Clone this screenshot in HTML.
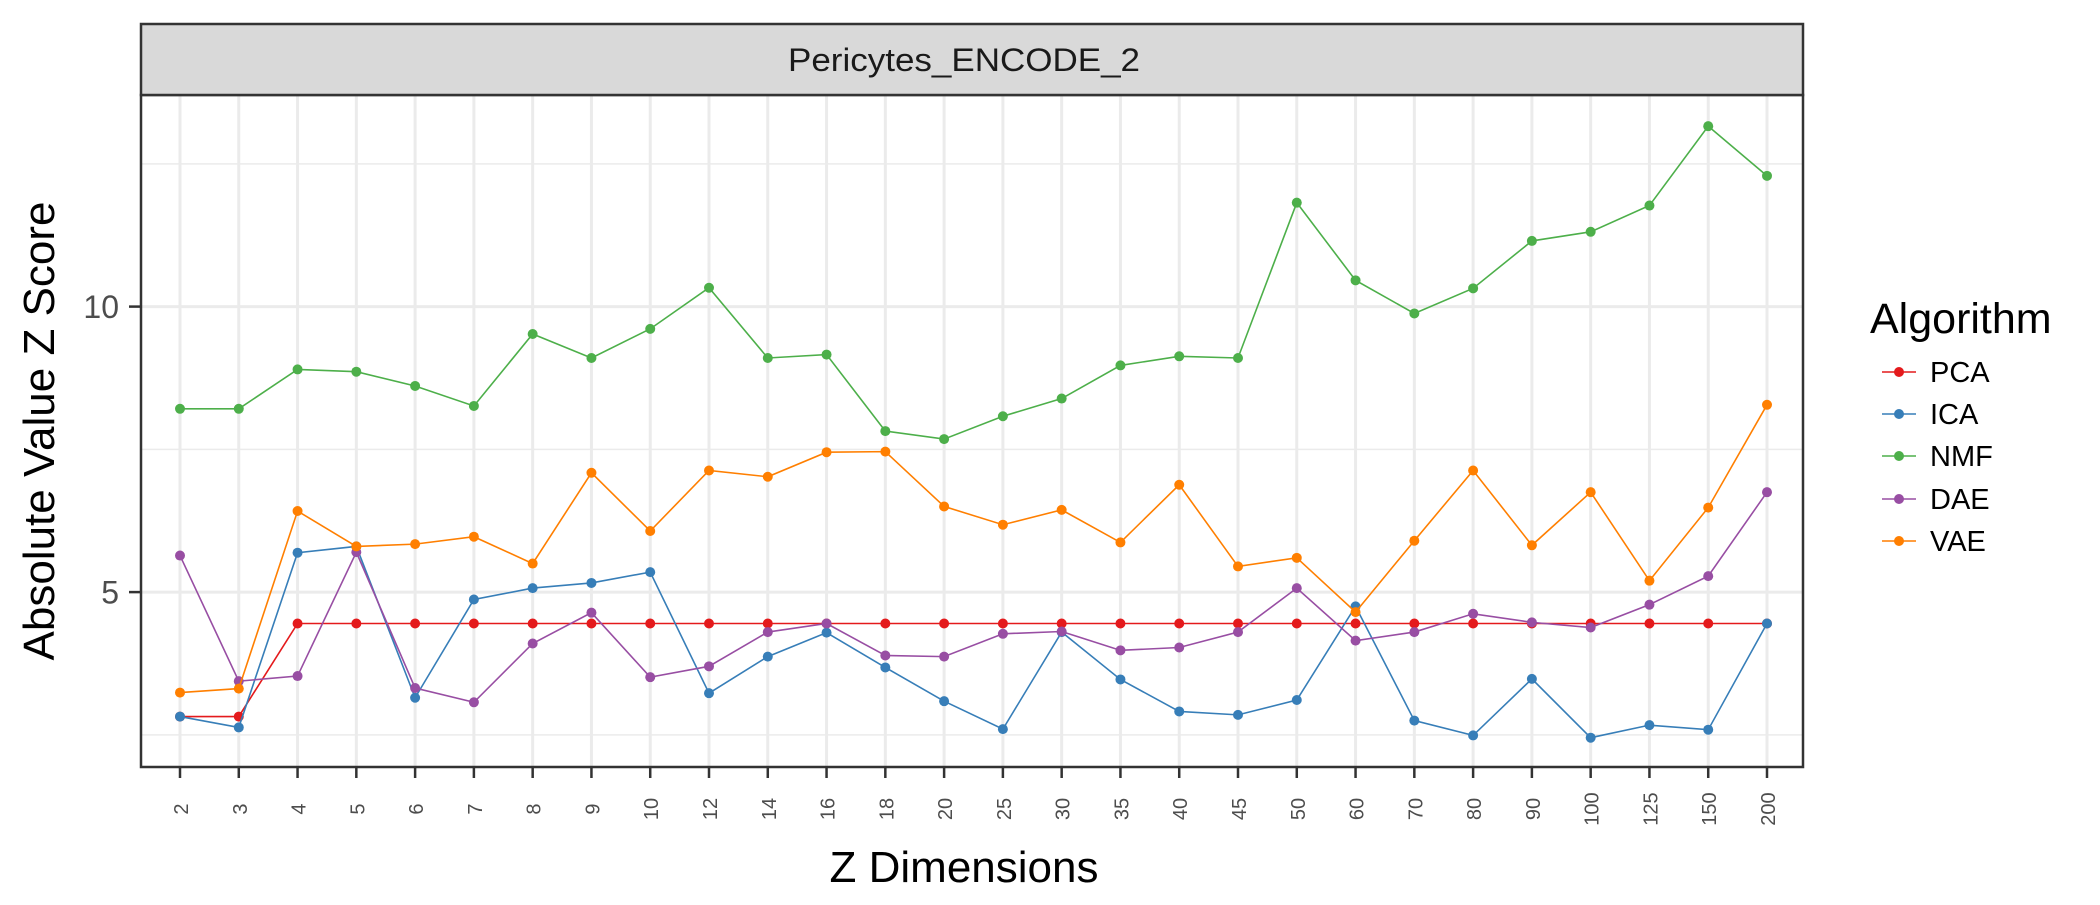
<!DOCTYPE html>
<html><head><meta charset="utf-8"><style>
body{margin:0;background:#fff}
svg text{font-family:"Liberation Sans",Arial,sans-serif}
</style></head><body>
<svg id="chart" width="2100" height="900" xmlns="http://www.w3.org/2000/svg"></svg>
<script>
const categories=["2","3","4","5","6","7","8","9","10","12","14","16","18","20","25","30","35","40","45","50","60","70","80","90","100","125","150","200"];
const pcaValues=[2.82,2.82,4.45,4.45,4.45,4.45,4.45,4.45,4.45,4.45,4.45,4.45,4.45,4.45,4.45,4.45,4.45,4.45,4.45,4.45,4.45,4.45,4.45,4.45,4.45,4.45,4.45,4.45];
const icaValues=[2.82,2.63,5.69,5.8,3.15,4.87,5.07,5.16,5.35,3.23,3.87,4.29,3.68,3.09,2.6,4.3,3.47,2.91,2.85,3.11,4.75,2.75,2.49,3.48,2.45,2.67,2.59,4.45];
const nmfValues=[8.21,8.21,8.9,8.86,8.61,8.26,9.52,9.1,9.61,10.33,9.1,9.16,7.82,7.68,8.08,8.39,8.97,9.13,9.1,11.82,10.46,9.88,10.32,11.15,11.31,11.77,13.16,12.29];
const daeValues=[5.64,3.44,3.53,5.7,3.32,3.07,4.1,4.64,3.51,3.7,4.3,4.45,3.89,3.87,4.27,4.31,3.98,4.03,4.3,5.07,4.15,4.3,4.62,4.47,4.38,4.78,5.28,6.75];
const vaeValues=[3.24,3.31,6.42,5.8,5.84,5.97,5.5,7.09,6.07,7.13,7.02,7.45,7.46,6.5,6.18,6.44,5.87,6.88,5.45,5.6,4.65,5.9,7.13,5.82,6.75,5.2,6.48,8.28];
const seriesNames=["PCA","ICA","NMF","DAE","VAE"];
const seriesColors=["#E41A1C","#377EB8","#4DAF4A","#984EA3","#FF7F00"];
const yTicks=[5,10];
const yMinor=[2.5,7.5,12.5];

const svg=document.getElementById('chart');
const NS="http://www.w3.org/2000/svg";
function mk(tag,attrs,parent){const e=document.createElementNS(NS,tag);for(const k in attrs)e.setAttribute(k,attrs[k]);(parent||svg).appendChild(e);return e;}
const L=141,R=1803,T=95,B=767,ST=24;
const x0=180,step=(1767-180)/(categories.length-1);
function xs(i){return x0+i*step;}
function ys(v){return 306.6+(10-v)*57.1;}

mk('rect',{x:L,y:T,width:R-L,height:B-T,fill:'#fff'});
for(const v of yMinor){const l=mk('line',{x1:L,x2:R,y1:ys(v),y2:ys(v),stroke:'#ebebeb','stroke-width':1.5});

}
for(const v of yTicks){const l=mk('line',{x1:L,x2:R,y1:ys(v),y2:ys(v),stroke:'#ebebeb','stroke-width':3});

}
categories.forEach((c,i)=>{const l=mk('line',{x1:xs(i),x2:xs(i),y1:T,y2:B,stroke:'#ebebeb','stroke-width':3});

});

const allSeries=[pcaValues,icaValues,nmfValues,daeValues,vaeValues];
allSeries.forEach((vals,s)=>{
 const g=mk('g',{});
 
 
 const pts=vals.map((v,i)=>xs(i)+','+ys(v)).join(' ');
 const pl=mk('polyline',{points:pts,fill:'none',stroke:seriesColors[s],'stroke-width':1.6},g);
 
 
 vals.forEach((v,i)=>{const c=mk('circle',{cx:xs(i),cy:ys(v),r:5,fill:seriesColors[s]},g);
 
 });
});

const frame=mk('rect',{x:L,y:T,width:R-L,height:B-T,fill:'none',stroke:'#333','stroke-width':2.5});


const strip=mk('rect',{x:L,y:ST,width:R-L,height:T-ST,fill:'#d9d9d9',stroke:'#333','stroke-width':2.5});


const st=mk('text',{x:(L+R)/2-8,y:71,'text-anchor':'middle','font-size':32,fill:'#1a1a1a',textLength:352,lengthAdjust:'spacingAndGlyphs'});
st.textContent='Pericytes_ENCODE_2';



for(const v of yTicks){
 mk('line',{x1:L-12,x2:L,y1:ys(v),y2:ys(v),stroke:'#333','stroke-width':2.5});
 const t=mk('text',{x:L-22,y:ys(v)+11.5,'text-anchor':'end','font-size':32,fill:'#4d4d4d'});
 t.textContent=String(v);
 
 
}
categories.forEach((c,i)=>{
 mk('line',{x1:xs(i),x2:xs(i),y1:B,y2:B+11,stroke:'#333','stroke-width':2.5});
 const t=mk('text',{x:0,y:0,'text-anchor':'middle','font-size':20,fill:'#4d4d4d',transform:`translate(${xs(i)+8},809) rotate(-90)`});
 t.textContent=c;
 
 
});
const xt=mk('text',{x:964,y:882,'text-anchor':'middle','font-size':44,fill:'#000'});
xt.textContent='Z Dimensions';


const yt=mk('text',{x:0,y:0,'text-anchor':'middle','font-size':44,fill:'#000',transform:`translate(54,${(T+B)/2}) rotate(-90)`});
yt.textContent='Absolute Value Z Score';



const lt=mk('text',{x:1870,y:333,'font-size':43,fill:'#000'});
lt.textContent='Algorithm';


const ly=[372,414,456,499,541];
seriesNames.forEach((n,s)=>{
 const g=mk('g',{});
 
 
 mk('line',{x1:1882,x2:1916,y1:ly[s],y2:ly[s],stroke:seriesColors[s],'stroke-width':1.6},g);
 mk('circle',{cx:1899,cy:ly[s],r:5,fill:seriesColors[s]},g);
 const t=mk('text',{x:1930,y:ly[s]+10,'font-size':29,fill:'#000'},g);
 t.textContent=n;
});
</script>
</body></html>
